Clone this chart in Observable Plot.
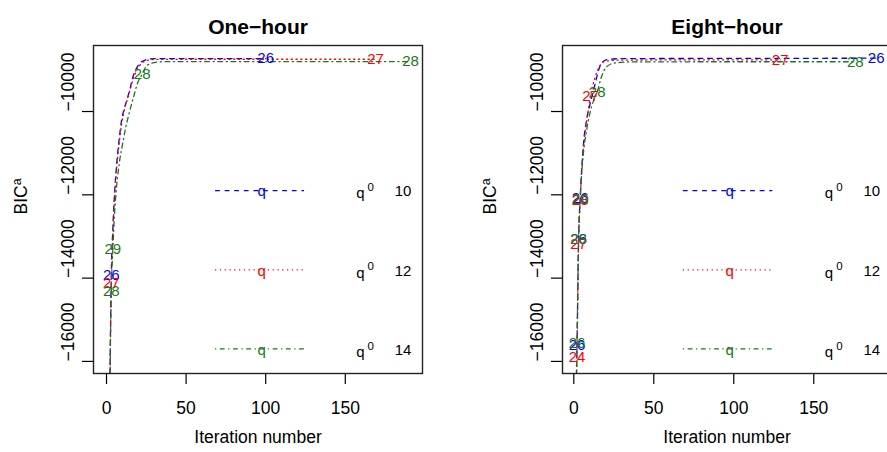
<!DOCTYPE html>
<html><head><meta charset="utf-8">
<script src="https://cdn.jsdelivr.net/npm/d3@7"></script>
<script src="https://cdn.jsdelivr.net/npm/@observablehq/plot@0.6"></script>
<style>
body{margin:0;background:#fff}
#wrap{position:relative;width:887px;height:452px;overflow:hidden;background:#fff}
.panel{position:absolute;top:0;width:468px;height:452px}
.panel svg{max-width:none !important}
</style>
</head><body><div id="wrap"></div>
<script>
// ---------- data ----------
const panelTitles = ["One−hour", "Eight−hour"];
const q0Values = ["10", "12", "14"];
const xTicks = [0, 50, 100, 150];
const yTicks = [-16000, -14000, -12000, -10000];
const xLabel = "Iteration number";

// One-hour
const oneIter10 = [2, 3, 4, 5, 6, 7, 8, 9.5, 11, 13, 15, 16.5, 19, 21.5, 25.5, 30, 50, 100];
const oneBIC10  = [-17000, -13940, -12800, -12000, -11450, -11000, -10650, -10200, -9950, -9700, -9420, -9180, -8950, -8820, -8750, -8730, -8730, -8730];
const oneIter12 = [2, 3, 4, 5, 6, 7, 8, 9.5, 11, 13, 15, 17, 19.5, 22, 26, 30, 60, 100, 140, 169];
const oneBIC12  = [-17000, -14120, -12900, -12100, -11550, -11100, -10750, -10300, -10000, -9720, -9450, -9200, -8980, -8840, -8770, -8750, -8745, -8745, -8745, -8745];
const oneIter14 = [2, 3, 4, 5, 6, 8, 10, 12, 14.5, 17, 19.5, 22.4, 25.5, 30, 35, 60, 100, 150, 191];
const oneBIC14  = [-17000, -14310, -13300, -12500, -11950, -11250, -10800, -10400, -10000, -9650, -9320, -9100, -8890, -8825, -8805, -8800, -8800, -8800, -8800];
const oneLabIter   = [3, 100, 3, 169, 3, 4, 22.4, 191];
const oneLabBIC    = [-13940, -8730, -14120, -8740, -14310, -13300, -9095, -8800];
const oneLabText   = ["26", "26", "27", "27", "28", "29", "28", "28"];
const oneLabSeries = ["10", "10", "12", "12", "14", "14", "14", "14"];

// Eight-hour
const eightIter10 = [1, 2, 3, 4, 5, 6, 8, 10, 12, 14, 16, 18, 21, 30, 100, 189];
const eightBIC10  = [-17500, -15620, -13060, -12080, -11350, -10800, -10200, -9850, -9550, -9230, -8950, -8810, -8750, -8730, -8725, -8720];
const eightIter12 = [1, 2, 3, 4, 5, 6, 8, 10.5, 13, 16, 20, 30, 80, 129];
const eightBIC12  = [-17500, -15900, -13180, -12140, -11400, -10900, -10250, -9620, -9220, -8920, -8790, -8765, -8760, -8760];
const eightIter14 = [1, 2, 3, 4, 5, 6, 8, 10, 12, 14.6, 17, 20, 25, 35, 100, 176];
const eightBIC14  = [-17500, -15560, -13060, -12110, -11450, -11000, -10450, -10050, -9780, -9540, -9200, -8950, -8840, -8810, -8805, -8805];
const eightLabIter   = [2, 3, 4, 189, 2, 3, 4, 10.5, 129, 2, 3, 4, 14.6, 176];
const eightLabBIC    = [-15620, -13060, -12080, -8720, -15900, -13180, -12140, -9620, -8760, -15560, -13060, -12110, -9540, -8810];
const eightLabText   = ["26", "26", "26", "26", "24", "27", "28", "27", "27", "26", "28", "29", "28", "28"];
const eightLabSeries = ["10", "10", "10", "10", "12", "12", "12", "12", "12", "14", "14", "14", "14", "14"];

// ---------- styles / layout ----------
const colors = {"10": "#0000ff", "12": "#ff0000", "14": "#177a17"};
const dashes = {"10": "4.8,4.8", "12": "1.2,3.6", "14": "1.2,3.6,4.8,3.6"};
const legendY = [-11900, -13800, -15700];
const legendX1 = 68.5, legendX2 = 124.4, legendSym = 97.5, legendQ = 159.5, legendSup = 166, legendNum = 186.3;
const FONT = "'Liberation Sans', Arial, Helvetica, sans-serif";

function rows(iters, bics, s) { return iters.map((x, i) => ({iter: x, bic: bics[i], s})); }
function labs(it, b, t, s) { return it.map((x, i) => ({iter: x, bic: b[i], text: t[i], s: s[i]})); }

const panels = [
  {title: panelTitles[0], left: 0, xDomain: [-8.17, 198.5],
   lines: [rows(oneIter10, oneBIC10, "10"), rows(oneIter12, oneBIC12, "12"), rows(oneIter14, oneBIC14, "14")],
   labels: labs(oneLabIter, oneLabBIC, oneLabText, oneLabSeries)},
  {title: panelTitles[1], left: 469, xDomain: [-7.06, 198.6],
   lines: [rows(eightIter10, eightBIC10, "10"), rows(eightIter12, eightBIC12, "12"), rows(eightIter14, eightBIC14, "14")],
   labels: labs(eightLabIter, eightLabBIC, eightLabText, eightLabSeries)}
];
const legendRows = q0Values.map((q, i) => ({s: q, y: legendY[i]}));
const fmt = d3.format("d");

const wrap = document.getElementById("wrap");
for (const p of panels) {
  const marks = [
    Plot.axisX({ticks: xTicks, tickSize: 11, tickPadding: 17, label: null, tickFormat: d => String(d), strokeWidth: 1.2}),
    Plot.axisY({ticks: yTicks, tickSize: 11, tickFormat: () => "", label: null, strokeWidth: 1.2}),
    Plot.text(yTicks, {y: d => d, frameAnchor: "left", rotate: -90, dx: -25, text: d => fmt(d), fontSize: 17.5}),
    Plot.text(["BIC"], {frameAnchor: "left", rotate: -90, dx: -72, dy: 5, text: d => d, fontSize: 17.5}),
    Plot.text([xLabel], {frameAnchor: "bottom", dy: 69, text: d => d, fontSize: 17.5}),
    Plot.text([p.title], {frameAnchor: "top", dy: -26, text: d => d, fontSize: 21, fontWeight: "bold"})
  ];
  for (const L of p.lines) {
    const s = L[0].s;
    marks.push(Plot.line(L, {x: "iter", y: "bic", stroke: colors[s], strokeDasharray: dashes[s], strokeWidth: 1.3, curve: "monotone-x", clip: true}));
  }
  for (const s of q0Values) {
    marks.push(Plot.text(p.labels.filter(d => d.s === s), {x: "iter", y: "bic", text: "text", fill: colors[s], fontSize: 15}));
  }
  // legend
  for (const r of legendRows) {
    marks.push(Plot.ruleY([r], {y: "y", x1: legendX1, x2: legendX2, stroke: colors[r.s], strokeDasharray: dashes[r.s], strokeWidth: 1.2}));
    marks.push(Plot.text([r], {x: legendSym, y: "y", text: () => "q", fill: colors[r.s], fontSize: 15, dy: 1}));
  }
  marks.push(Plot.text(legendRows, {x: legendQ, y: "y", text: () => "q", fill: "black", fontSize: 15, dy: 3}));
  marks.push(Plot.text(legendRows, {x: legendSup, y: "y", text: () => "0", fill: "black", fontSize: 11.5, dy: -3}));
  marks.push(Plot.text(legendRows, {x: legendNum, y: "y", text: "s", fill: "black", fontSize: 15, dy: 1}));
  marks.push(Plot.frame({stroke: "#222", strokeWidth: 1.4}));

  const chart = Plot.plot({
    width: 468, height: 452,
    marginLeft: 93, marginRight: 46, marginTop: 45, marginBottom: 79,
    x: {domain: p.xDomain},
    y: {domain: [-16290, -8415]},
    style: {fontFamily: FONT, fontSize: "17.5px", background: "white", color: "black", overflow: "visible", maxWidth: "none"},
    marks
  });
  chart.style.maxWidth = "none";
  chart.style.width = "468px";
  chart.style.height = "452px";
  const div = document.createElement("div");
  div.className = "panel";
  div.style.left = p.left + "px";
  div.appendChild(chart);
  wrap.appendChild(div);
  // superscript a on BIC
  d3.select(chart).selectAll("text").filter(function() { return this.textContent === "BIC"; }).each(function() {
    d3.select(this).append("tspan").attr("dy", "-0.5em").attr("font-size", "12.5px").text("a");
  });
}
</script></body></html>
